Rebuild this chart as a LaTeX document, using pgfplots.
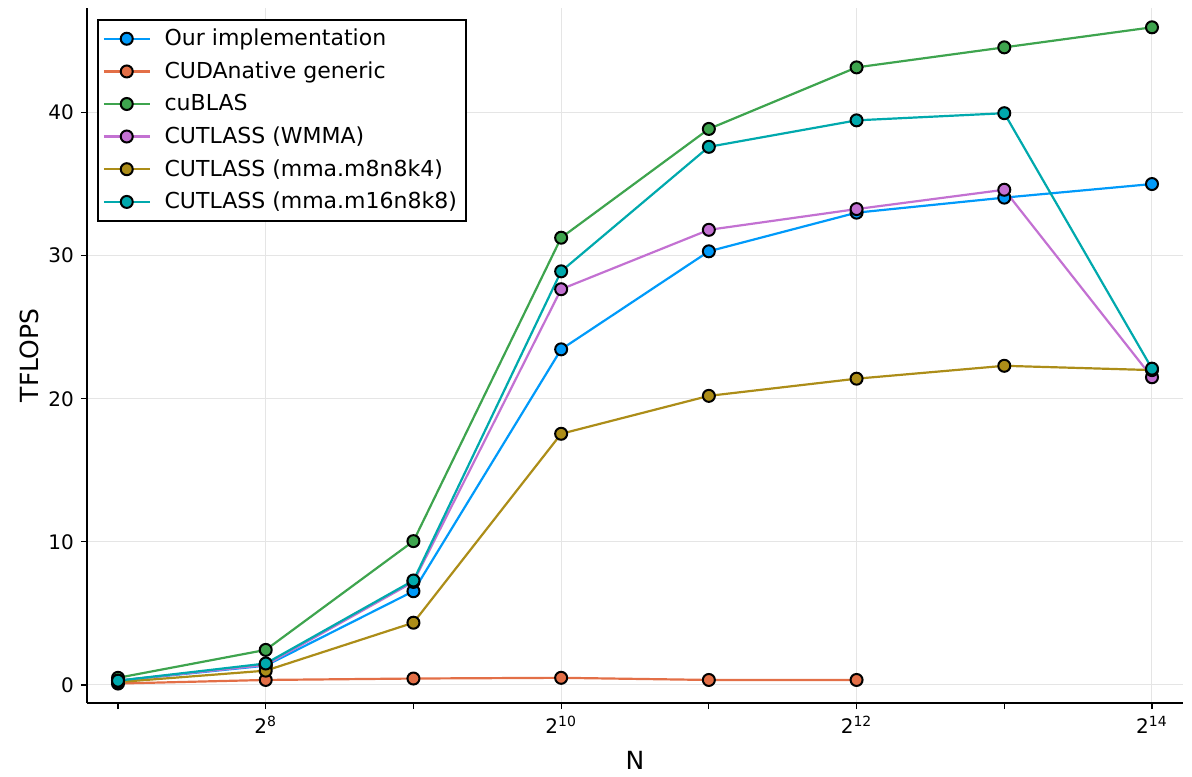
\documentclass[border=0pt]{standalone}
\usepackage{pgfplots}
\pgfplotsset{compat=1.18}
\usepackage{fontspec}
\setmainfont{DejaVu Sans}
\usetikzlibrary{calc}
\definecolor{c1}{RGB}{0,154,250}
\definecolor{c2}{RGB}{227,111,71}
\definecolor{c3}{RGB}{62,164,78}
\definecolor{c4}{RGB}{195,113,210}
\definecolor{c5}{RGB}{172,141,24}
\definecolor{c6}{RGB}{0,169,173}
\begin{document}
\begin{tikzpicture}
\begin{axis}[
  scale only axis,
  width=548pt, height=347.5pt,
  xmin=6.79, xmax=14.21,
  ymin=-1.26, ymax=47.3,
  axis lines=left,
  axis line style={line width=1pt, -},
  xtick={8,10,12,14},
  xticklabels={2\textsuperscript{8},2\textsuperscript{10},2\textsuperscript{12},2\textsuperscript{14}},
  minor xtick={7,9,11,13},
  ytick={0,10,20,30,40},
  tick align=outside,
  major tick length=3pt, minor tick length=3pt,
  tick style={black, line width=0.6pt},
  xmajorgrids, ymajorgrids,
  major grid style={black!10, line width=0.5pt},
  /pgf/number format/assume math mode=true,
  tick label style={font=\fontsize{10}{12}\selectfont},
  xlabel={N}, ylabel={TFLOPS},
  label style={font=\fontsize{12.5}{14}\selectfont},
  xlabel style={yshift=-2pt},
  ylabel style={yshift=-2pt},
  every axis plot/.append style={line width=1.1pt, mark=*, mark size=3pt},
  legend style={at={(axis description cs:0,1)}, anchor=north west,
     xshift=5pt, yshift=-5.5pt, draw=black, line width=0.9pt,
     font=\fontsize{11}{13}\selectfont, row sep=2.5pt, inner sep=2.5pt,
     cells={anchor=west},
     /tikz/every odd column/.append style={column sep=5pt}},
  legend cell align=left,
  legend image code/.code={\draw[mark repeat=2, mark phase=2] plot coordinates {(0cm,0cm) (0.4cm,0cm) (0.8cm,0cm)};},
]
\addplot[c1, mark options={fill=c1, draw=black, line width=1pt}] coordinates {(7,0.3) (8,1.35) (9,6.55) (10,23.45) (11,30.3) (12,33.0) (13,34.05) (14,35.0)};
\addlegendentry{Our implementation}
\addplot[c2, mark options={fill=c2, draw=black, line width=1pt}] coordinates {(7,0.1) (8,0.35) (9,0.45) (10,0.5) (11,0.35) (12,0.35)};
\addlegendentry{CUDAnative generic}
\addplot[c3, mark options={fill=c3, draw=black, line width=1pt}] coordinates {(7,0.5) (8,2.45) (9,10.05) (10,31.25) (11,38.85) (12,43.15) (13,44.55) (14,45.95)};
\addlegendentry{cuBLAS}
\addplot[c4, mark options={fill=c4, draw=black, line width=1pt}] coordinates {(7,0.3) (8,1.4) (9,7.2) (10,27.65) (11,31.8) (12,33.25) (13,34.6) (14,21.5)};
\addlegendentry{CUTLASS (WMMA)}
\addplot[c5, mark options={fill=c5, draw=black, line width=1pt}] coordinates {(7,0.2) (8,1.0) (9,4.35) (10,17.55) (11,20.2) (12,21.4) (13,22.3) (14,22.0)};
\addlegendentry{CUTLASS (mma.m8n8k4)}
\addplot[c6, mark options={fill=c6, draw=black, line width=1pt}] coordinates {(7,0.3) (8,1.5) (9,7.3) (10,28.9) (11,37.6) (12,39.45) (13,39.95) (14,22.1)};
\addlegendentry{CUTLASS (mma.m16n8k8)}
\end{axis}
\pgfresetboundingbox
\path ($(current axis.south west)+(-43.5pt,-36.5pt)$) rectangle ($(current axis.north east)+(4.5pt,4pt)$);
\end{tikzpicture}
\end{document}
